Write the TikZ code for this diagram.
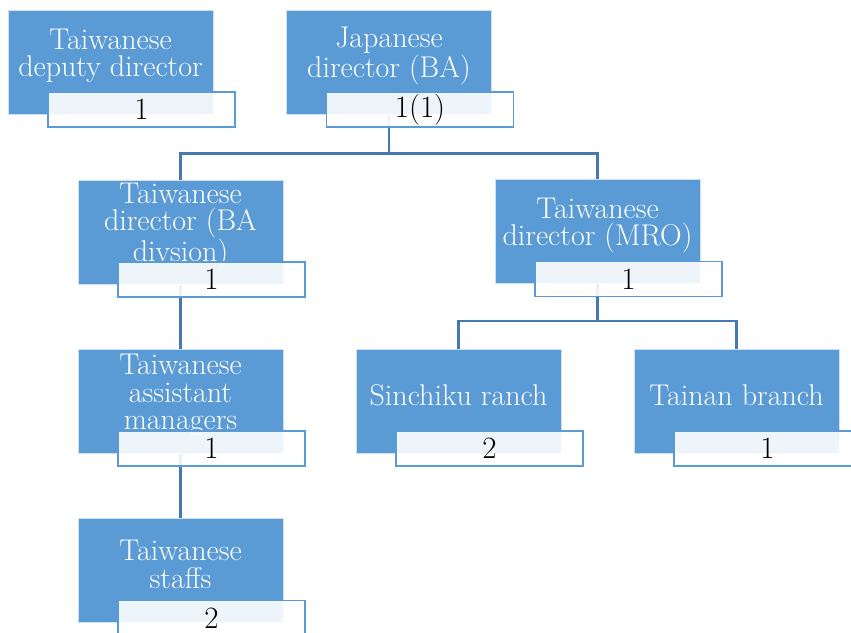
\documentclass[tikz,border=0pt]{standalone}
\usetikzlibrary{backgrounds}
\definecolor{accent}{RGB}{91,155,213}
\definecolor{linkblue}{RGB}{70,120,178}
\tikzset{
  x=1pt, y=-1pt,
  unitbox/.style={fill=accent, draw=white!70!accent, line width=0.8pt,
    minimum width=205pt, minimum height=104pt, inner sep=0pt},
  unittext/.style={text=white, align=center, inner sep=0pt,
    font=\fontsize{30}{27.5}\selectfont},
  countbox/.style={fill=white, fill opacity=0.9, text opacity=1,
    draw=accent, line width=1.8pt,
    minimum width=187pt, minimum height=35pt, inner sep=0pt,
    font=\fontsize{31}{32}\selectfont},
  link/.style={draw=linkblue, line width=2.2pt},
}
\newcommand{\orgunit}[4]{%
  \node[unitbox] (#1) at (#2) {};
  \node[unittext] (#1-t) at ([yshift=6pt]#1.center) {#3};
  \node[countbox] (#1-n) at ([xshift=31pt,yshift=-47.5pt]#1.center) {#4};
}
\begin{document}
\begin{tikzpicture}
  \useasboundingbox (0,0) rectangle (851,632);

  \orgunit{dep}{110.5,62}{Taiwanese\\deputy director}{1}
  \orgunit{jp}{389,62}{Japanese\\director (BA)}{1(1)}
  \orgunit{ba}{180.5,232}{Taiwanese\\director (BA\\divsion)}{1}
  \orgunit{mro}{597.5,231.5}{Taiwanese\\director (MRO)}{1}
  \orgunit{asst}{180.5,401}{Taiwanese\\assistant\\managers}{1}
  \orgunit{sin}{458.5,401}{Sinchiku ranch}{2}
  \orgunit{tai}{736.5,401}{Tainan branch}{1}
  \orgunit{stf}{180.5,570.5}{Taiwanese\\staffs}{2}

  \begin{scope}[on background layer]
    \draw[link] (jp.south) -- ++(0,39) -| (ba.north);
    \draw[link] (jp.south) -- ++(0,39) -| (mro.north);
    \draw[link] (ba.south) -- (asst.north);
    \draw[link] (asst.south) -- (stf.north);
    \draw[link] (mro.south) -- ++(0,37) -| (sin.north);
    \draw[link] (mro.south) -- ++(0,37) -| (tai.north);
  \end{scope}
\end{tikzpicture}
\end{document}
